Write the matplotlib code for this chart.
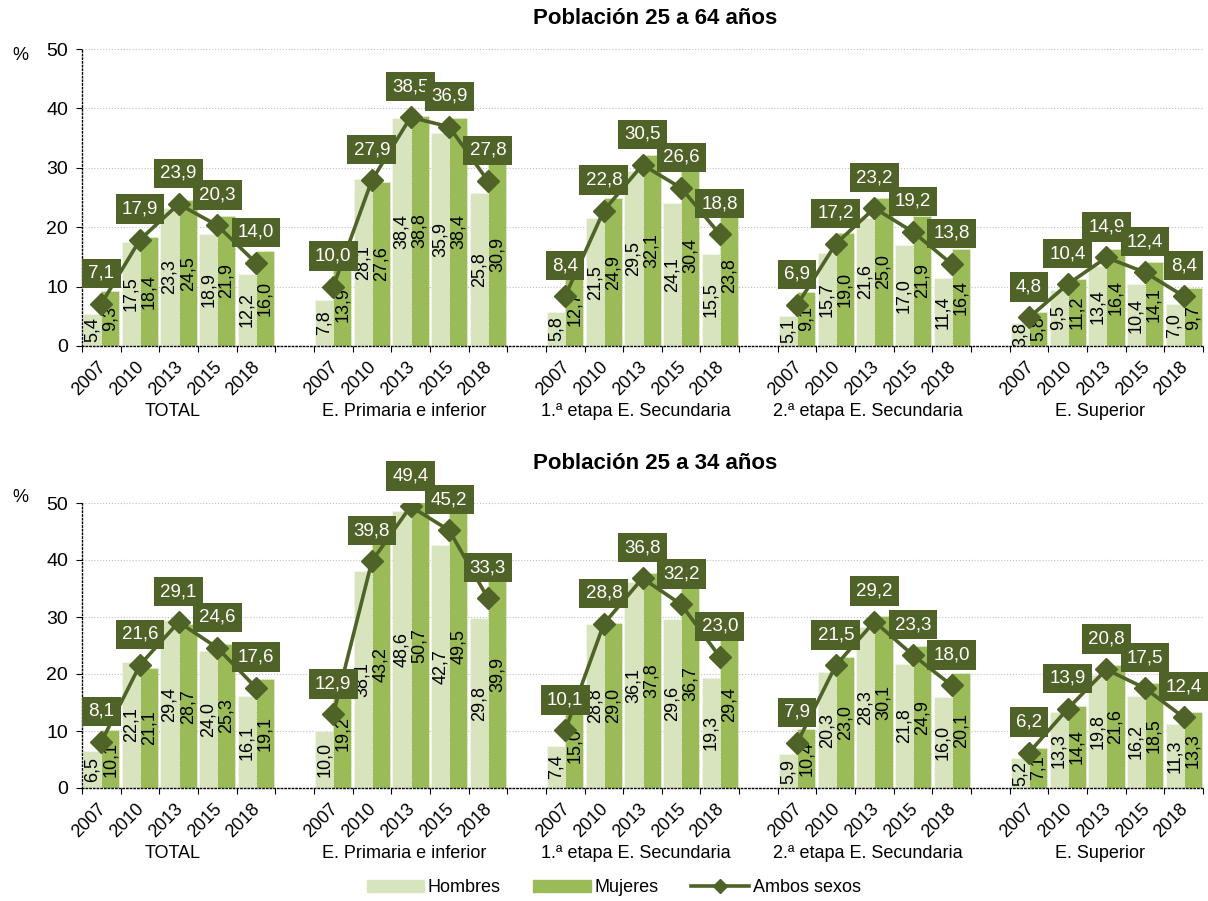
import matplotlib.pyplot as plt
import matplotlib.patches as mpatches
import matplotlib.lines as mlines

plt.rcParams['font.family'] = ['Liberation Sans', 'DejaVu Sans']

# Categories
groups = ["TOTAL", "E. Primaria e inferior", "1.ª etapa E. Secundaria",
          "2.ª etapa E. Secundaria", "E. Superior"]
years = ["2007", "2010", "2013", "2015", "2018"]

# Población 25 a 64 años
top_hombres = [[5.4, 17.5, 23.3, 18.9, 12.2],
               [7.8, 28.1, 38.4, 35.9, 25.8],
               [5.8, 21.5, 29.5, 24.1, 15.5],
               [5.1, 15.7, 21.6, 17.0, 11.4],
               [3.8, 9.5, 13.4, 10.4, 7.0]]
top_mujeres = [[9.3, 18.4, 24.5, 21.9, 16.0],
               [13.9, 27.6, 38.8, 38.4, 30.9],
               [12.7, 24.9, 32.1, 30.4, 23.8],
               [9.1, 19.0, 25.0, 21.9, 16.4],
               [5.8, 11.2, 16.4, 14.1, 9.7]]
top_ambos = [[7.1, 17.9, 23.9, 20.3, 14.0],
             [10.0, 27.9, 38.5, 36.9, 27.8],
             [8.4, 22.8, 30.5, 26.6, 18.8],
             [6.9, 17.2, 23.2, 19.2, 13.8],
             [4.8, 10.4, 14.9, 12.4, 8.4]]

# Población 25 a 34 años
bot_hombres = [[6.5, 22.1, 29.4, 24.0, 16.1],
               [10.0, 38.1, 48.6, 42.7, 29.8],
               [7.4, 28.8, 36.1, 29.6, 19.3],
               [5.9, 20.3, 28.3, 21.8, 16.0],
               [5.2, 13.3, 19.8, 16.2, 11.3]]
bot_mujeres = [[10.1, 21.1, 28.7, 25.3, 19.1],
               [19.2, 43.2, 50.7, 49.5, 39.9],
               [15.0, 29.0, 37.8, 36.7, 29.4],
               [10.4, 23.0, 30.1, 24.9, 20.1],
               [7.1, 14.4, 21.6, 18.5, 13.3]]
bot_ambos = [[8.1, 21.6, 29.1, 24.6, 17.6],
             [12.9, 39.8, 49.4, 45.2, 33.3],
             [10.1, 28.8, 36.8, 32.2, 23.0],
             [7.9, 21.5, 29.2, 23.3, 18.0],
             [6.2, 13.9, 20.8, 17.5, 12.4]]

C_H = '#D7E4BD'
C_M = '#9BBB59'
C_A = '#4F6228'
YMAX = 50


def fmt(v):
    return ('%.1f' % v).replace('.', ',')


def draw_panel(ax, hombres, mujeres, ambos):
    bw = 0.47
    for g in range(len(groups)):
        xs = [g * 6 + j + 0.5 for j in range(len(years))]
        ax.bar([x - bw / 2 for x in xs], hombres[g], bw, color=C_H,
               edgecolor='white', linewidth=0.6, linestyle=':', zorder=2)
        ax.bar([x + bw / 2 for x in xs], mujeres[g], bw, color=C_M,
               edgecolor='white', linewidth=0.6, linestyle=':', zorder=2)
        ax.plot(xs, ambos[g], color=C_A, lw=2.6, marker='D', ms=11, zorder=4)
        for j, x in enumerate(xs):
            h = hombres[g][j]
            m = mujeres[g][j]
            ax.text(x - bw / 2, min(h, YMAX) / 2, fmt(h), rotation=90,
                    ha='center', va='center', fontsize=13, zorder=3)
            ax.text(x + bw / 2, min(m, YMAX) / 2, fmt(m), rotation=90,
                    ha='center', va='center', fontsize=13, zorder=3)
            ax.annotate(fmt(ambos[g][j]), (x, ambos[g][j]), xytext=(0, 22),
                        textcoords='offset points', ha='center', va='center',
                        color='white', fontsize=13.5, zorder=6,
                        bbox=dict(boxstyle='square,pad=0.33', fc=C_A, ec='none'))
            # year label
            ax.annotate(years[j], (x, 0), xycoords=('data', 'axes fraction'),
                        xytext=(-3, -9), textcoords='offset points',
                        ha='right', va='top', rotation=45, rotation_mode='anchor',
                        fontsize=13)
        # group label
        ax.annotate(groups[g], (g * 6 + 2.5, 0), xycoords=('data', 'axes fraction'),
                    xytext=(-4.5, -47), textcoords='offset points',
                    ha='center', va='center', fontsize=13)

    ax.set_xlim(0, 29)
    ax.set_ylim(0, YMAX)
    ax.set_yticks(range(0, 51, 10))
    ax.tick_params(axis='y', labelsize=14, length=4, direction='out', pad=6)
    ax.set_xticks(range(0, 30))
    ax.set_xticklabels([])
    ax.tick_params(axis='x', length=4, direction='out')
    ax.yaxis.grid(True, color='#BFBFBF', linestyle=':', linewidth=0.8, zorder=0)
    ax.set_axisbelow(True)
    for s in ['top', 'right']:
        ax.spines[s].set_visible(False)
    for s in ['left', 'bottom']:
        ax.spines[s].set_linestyle(':')
        ax.spines[s].set_linewidth(1.0)
        ax.spines[s].set_zorder(5)


fig = plt.figure(figsize=(12.08, 9.01), dpi=100)
W, H = 1208.0, 901.0

ax1 = fig.add_axes([82 / W, (H - 346) / H, 1121 / W, 297 / H])
ax2 = fig.add_axes([82 / W, (H - 788) / H, 1121 / W, 285 / H])

draw_panel(ax1, top_hombres, top_mujeres, top_ambos)
draw_panel(ax2, bot_hombres, bot_mujeres, bot_ambos)

fig.text(655 / W, 1 - 18 / H, "Población 25 a 64 años", ha='center', va='center',
         fontsize=16, fontweight='bold')
fig.text(655 / W, 1 - 463 / H, "Población 25 a 34 años", ha='center', va='center',
         fontsize=16, fontweight='bold')
fig.text(20 / W, 1 - 55 / H, "%", ha='center', va='center', fontsize=13)
fig.text(20 / W, 1 - 497 / H, "%", ha='center', va='center', fontsize=13)

handles = [mpatches.Patch(color=C_H, label='Hombres'),
           mpatches.Patch(color=C_M, label='Mujeres'),
           mlines.Line2D([], [], color=C_A, lw=2.6, marker='D', ms=7, label='Ambos sexos')]
fig.legend(handles=handles, loc='center', bbox_to_anchor=(0.508, 1 - 888 / H), ncol=3,
           frameon=False, fontsize=13, handlelength=3.2, handleheight=0.6,
           handletextpad=0.2, columnspacing=1.8)

fig.savefig('out.png', dpi=100)
